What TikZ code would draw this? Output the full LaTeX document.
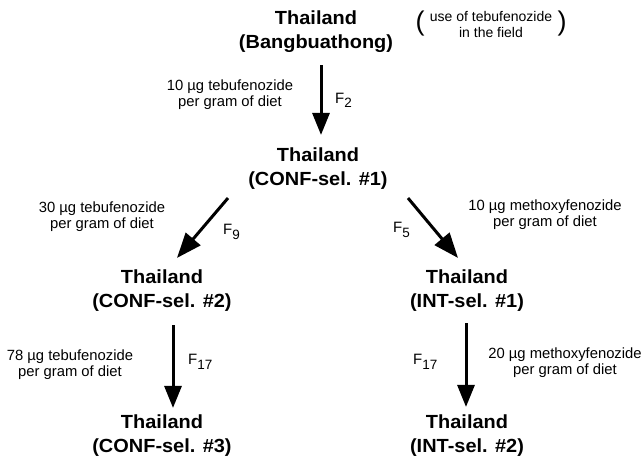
\documentclass[tikz,border=0pt]{standalone}
\usepackage{fontspec}
\setmainfont{Liberation Sans}
\newfontfamily\popfont[FakeStretch=1.05]{Liberation Sans}
\usetikzlibrary{arrows.meta}
\newcommand{\gensub}[1]{F\raisebox{-4.5pt}{\fontsize{13.5}{13.5}\selectfont #1}}
\begin{document}
\begin{tikzpicture}[x=1pt,y=1pt,
  pop/.style={font=\popfont\fontsize{19}{24}\selectfont\bfseries, align=center, inner sep=0pt},
  lab/.style={font=\fontsize{14.8}{16}\selectfont, align=center, inner sep=0pt},
  notetext/.style={font=\fontsize{14}{16}\selectfont, align=center, inner sep=0pt},
  gen/.style={font=\fontsize{15}{15}\selectfont, inner sep=0pt, anchor=base west},
  sel/.style={line width=3pt, -{Triangle[length=22pt,width=17pt]}},
  seld/.style={line width=3pt, -{Triangle[length=25pt,width=19pt]}},
  paren/.style={font=\fontsize{27}{27}\selectfont, inner sep=0pt}]
\useasboundingbox (0,0) rectangle (641,456);

% populations
\node[pop] (top) at (316,424) {Thailand\\(Bangbuathong)};
\node[pop] (c1) at (318,287) {Thailand\\(CONF-sel. \#1)};
\node[pop] (c2) at (162,165) {Thailand\\(CONF-sel. \#2)};
\node[pop] (i1) at (467,165) {Thailand\\(INT-sel. \#1)};
\node[pop] (c3) at (162,20) {Thailand\\(CONF-sel. \#3)};
\node[pop] (i2) at (467,20) {Thailand\\(INT-sel. \#2)};

% field note
\node[paren] (lp) at (420,432.5) {(};
\node[notetext] (note) at (491,432) {use of tebufenozide\\in the field};
\node[paren] (rp) at (562,432.5) {)};

% selection arrows
\draw[sel] ([xshift=5pt,yshift=-12pt]top.south) -- ([xshift=3pt,yshift=13pt]c1.north);
\draw[seld] ([xshift=-90pt,yshift=-8pt]c1.south) -- ([xshift=15pt,yshift=12pt]c2.north);
\draw[seld] ([xshift=90pt,yshift=-8pt]c1.south) -- ([xshift=-9pt,yshift=12pt]i1.north);
\draw[sel] ([xshift=11pt,yshift=-13pt]c2.south) -- ([xshift=11pt,yshift=7pt]c3.north);
\draw[sel] ([xshift=-1pt,yshift=-11pt]i1.south) -- ([xshift=-1pt,yshift=8pt]i2.north);

% dose labels
\node[lab] (l1) at (230,361) {10 µg tebufenozide\\per gram of diet};
\node[lab] (l2) at (102,239.5) {30 µg tebufenozide\\per gram of diet};
\node[lab] (l3) at (545,241.5) {10 µg methoxyfenozide\\per gram of diet};
\node[lab] (l4) at (70,91) {78 µg tebufenozide\\per gram of diet};
\node[lab] (l5) at (565,93.5) {20 µg methoxyfenozide\\per gram of diet};

% generation labels
\node[gen] (f2) at (335,352.5) {\gensub{2}};
\node[gen] (f9) at (223,221) {\gensub{9}};
\node[gen] (f5) at (393,223) {\gensub{5}};
\node[gen] (f17a) at (188,91) {\gensub{17}};
\node[gen] (f17b) at (413,91) {\gensub{17}};
\end{tikzpicture}
\end{document}
